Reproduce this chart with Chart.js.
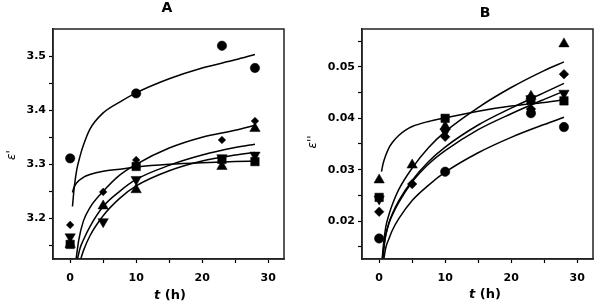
<!DOCTYPE html>
<html><head><meta charset="utf-8">
<script src="https://cdn.jsdelivr.net/npm/chart.js@4.4.1/dist/chart.umd.min.js"></script>
<style>
html,body{margin:0;padding:0;background:#fff;}
#wrap{position:relative;width:600px;height:308px;overflow:hidden;background:#fff;}
canvas{position:absolute;top:0;}
</style></head><body>
<div id="wrap">
<canvas id="cA" width="300" height="308" style="left:0px"></canvas>
<canvas id="cB" width="300" height="308" style="left:300px"></canvas>
</div>
<script>
// ---- sampling times (h) ----
const tHours = [0, 5, 10, 23, 28];

// ---- Panel A: epsilon' measured points ----
const aCircle   = [3.311, null, 3.431, 3.519, 3.478];
const aSquare   = [3.152, null, 3.296, 3.309, 3.305];
const aUpTri    = [3.152, 3.223, 3.253, 3.296, 3.366];
const aDownTri  = [3.166, 3.194, 3.272, 3.312, 3.317];
const aDiamond  = [3.188, 3.249, 3.308, 3.345, 3.380];

// ---- Panel A: fitted curves ----
const aFitCircleT  = [0.35, 0.6, 1, 1.5, 2, 3, 5, 7.5, 10, 15, 20, 25, 28];
const aFitCircleY  = [3.222, 3.255, 3.290, 3.315, 3.335, 3.365, 3.395, 3.415, 3.432, 3.458, 3.478, 3.493, 3.503];
const aFitSquareT  = [0.35, 0.6, 1, 2, 3, 5, 7.5, 10, 15, 20, 25, 28];
const aFitSquareY  = [3.248, 3.258, 3.266, 3.276, 3.281, 3.287, 3.291, 3.295, 3.300, 3.303, 3.305, 3.306];
const aFitDiamondT = [0.9, 1.3, 2, 3, 5, 7.5, 10, 15, 20, 25, 28];
const aFitDiamondY = [3.125, 3.160, 3.195, 3.220, 3.250, 3.280, 3.300, 3.330, 3.350, 3.363, 3.372];
const aFitUpT      = [1.1, 1.5, 2, 3, 5, 7.5, 10, 15, 20, 25, 28];
const aFitUpY      = [3.125, 3.145, 3.160, 3.185, 3.222, 3.250, 3.272, 3.298, 3.317, 3.331, 3.337];
const aFitDownT    = [1.6, 2, 3, 5, 7.5, 10, 15, 20, 25, 28];
const aFitDownY    = [3.125, 3.140, 3.168, 3.205, 3.237, 3.260, 3.288, 3.306, 3.317, 3.322];

// ---- Panel B: epsilon'' measured points ----
const bCircle   = [0.0166, null, 0.0296, 0.0410, 0.0383];
const bSquare   = [0.0246, null, 0.0400, 0.0436, 0.0434];
const bUpTri    = [0.0280, 0.0309, 0.0384, 0.0443, 0.0545];
const bDownTri  = [0.0243, null, 0.0374, 0.0438, 0.0449];
const bDiamond  = [0.0218, 0.0272, 0.0364, 0.0418, 0.0486];

// ---- Panel B: fitted curves ----
const bFitUpT      = [0.45, 0.7, 1, 1.5, 2, 3, 5, 7.5, 10, 15, 20, 25, 28];
const bFitUpY      = [0.0126, 0.0160, 0.0188, 0.0213, 0.0232, 0.0262, 0.0303, 0.0343, 0.0374, 0.0421, 0.0460, 0.0493, 0.0510];
const bFitDiamondT = [0.5, 0.75, 1, 1.5, 2, 3, 5, 7.5, 10, 15, 20, 25, 28];
const bFitDiamondY = [0.0126, 0.0155, 0.0173, 0.0197, 0.0214, 0.0240, 0.0279, 0.0316, 0.0344, 0.0387, 0.0420, 0.0450, 0.0468];
const bFitDownT    = [0.55, 0.8, 1, 1.5, 2, 3, 5, 7.5, 10, 15, 20, 25, 28];
const bFitDownY    = [0.0126, 0.0155, 0.0172, 0.0196, 0.0212, 0.0237, 0.0276, 0.0311, 0.0337, 0.0378, 0.0409, 0.0437, 0.0453];
const bFitCircleT  = [0.7, 1, 1.5, 2, 3, 5, 7.5, 10, 15, 20, 25, 28];
const bFitCircleY  = [0.0126, 0.0148, 0.0166, 0.0182, 0.0205, 0.0240, 0.0270, 0.0295, 0.0333, 0.0363, 0.0388, 0.0402];
const bFitSquareT  = [0.35, 0.6, 1, 1.5, 2, 3, 4, 5, 7.5, 10, 15, 20, 25, 28];
const bFitSquareY  = [0.0296, 0.0312, 0.0328, 0.0343, 0.0353, 0.0367, 0.0377, 0.0384, 0.0394, 0.0401, 0.0414, 0.0424, 0.0431, 0.0436];

// ---- ticks ----
const xTicks      = [0, 5, 10, 15, 20, 25, 30];
const xTickLabels = [0, 10, 20, 30];
const aYTicks      = [3.15, 3.2, 3.25, 3.3, 3.35, 3.4, 3.45, 3.5];
const aYTickLabels = ['3.2', '3.3', '3.4', '3.5'];
const bYTicks      = [0.015, 0.02, 0.025, 0.03, 0.035, 0.04, 0.045, 0.05, 0.055];
const bYTickLabels = ['0.02', '0.03', '0.04', '0.05'];

const FONT = 'DejaVu Sans';

function pts(xs, ys) {
  const out = [];
  xs.forEach((x, i) => { if (ys[i] !== null && ys[i] !== undefined) out.push({x: x, y: ys[i]}); });
  return out;
}
function markerSet(vals, style, r, rot) {
  return {
    data: pts(tHours, vals), showLine: false,
    pointStyle: style, pointRadius: r, pointRotation: rot || 0,
    pointBackgroundColor: '#000', pointBorderColor: '#000', pointBorderWidth: 0.5
  };
}
function curveSet(xs, ys) {
  return {
    data: pts(xs, ys), showLine: true, pointRadius: 0, borderColor: '#000',
    borderWidth: 1.5, cubicInterpolationMode: 'monotone', fill: false
  };
}

function makePanel(id, cfg) {
  const textPlugin = {
    id: 'texts',
    afterDraw(chart) {
      const ctx = chart.ctx;
      const ca = chart.chartArea;
      ctx.save();
      ctx.strokeStyle = '#222';
      ctx.lineWidth = 1.5;
      ctx.strokeRect(ca.left, ca.top, ca.right - ca.left, ca.bottom - ca.top);
      ctx.fillStyle = '#000';
      ctx.textAlign = 'center';
      ctx.textBaseline = 'middle';
      ctx.font = 'bold 14px "' + FONT + '"';
      ctx.fillText(cfg.title, cfg.titleX, cfg.titleY);
      ctx.font = 'bold italic 13px "' + FONT + '"';
      const w1 = ctx.measureText('t').width;
      ctx.font = 'bold 13px "' + FONT + '"';
      const w2 = ctx.measureText(' (h)').width;
      const x0 = cfg.xTitleX - (w1 + w2) / 2;
      ctx.textAlign = 'left';
      ctx.font = 'bold italic 13px "' + FONT + '"';
      ctx.fillText('t', x0, cfg.xTitleY);
      ctx.font = 'bold 13px "' + FONT + '"';
      ctx.fillText(' (h)', x0 + w1, cfg.xTitleY);
      ctx.translate(cfg.yTitleX, cfg.yTitleY);
      ctx.rotate(-Math.PI / 2);
      ctx.textAlign = 'center';
      ctx.font = 'italic 12px "' + FONT + '"';
      ctx.fillText(cfg.yTitle, 0, 0);
      ctx.restore();
    }
  };
  const tickFont = {family: FONT, weight: 'bold', size: 11};
  return new Chart(document.getElementById(id), {
    type: 'scatter',
    data: { datasets: cfg.datasets },
    options: {
      responsive: false, animation: false, devicePixelRatio: 1,
      layout: { padding: { top: 29, right: cfg.padRight, left: 0, bottom: 0 } },
      plugins: { legend: { display: false }, tooltip: { enabled: false }, title: { display: false } },
      scales: {
        x: {
          type: 'linear', min: -2.6, max: 32.4,
          afterBuildTicks: s => { s.ticks = xTicks.map(v => ({value: v})); },
          afterFit: s => { s.height = 49; },
          grid: { drawOnChartArea: false, tickLength: 4, color: '#000', tickWidth: 1.2 },
          border: { display: true, color: '#222', width: 1.5 },
          ticks: {
            autoSkip: false, maxRotation: 0, padding: 9, color: '#000', font: tickFont,
            callback: v => xTickLabels.includes(v) ? String(v) : ''
          }
        },
        y: {
          type: 'linear', min: cfg.yMin, max: cfg.yMax,
          afterBuildTicks: s => { s.ticks = cfg.yTicks.map(v => ({value: v})); },
          afterFit: s => { s.width = cfg.yWidth; },
          grid: { drawOnChartArea: false, tickLength: 4, color: '#000', tickWidth: 1.2 },
          border: { display: true, color: '#222', width: 1.5 },
          ticks: {
            autoSkip: false, padding: 3, color: '#000', font: tickFont,
            callback: v => {
              const s = v.toFixed(cfg.dec);
              return cfg.yLabels.includes(s) && Math.abs(parseFloat(s) - v) < 1e-9 ? s : '';
            }
          }
        }
      }
    },
    plugins: [textPlugin]
  });
}

makePanel('cA', {
  title: 'A', titleX: 167, titleY: 8,
  xTitleX: 170, xTitleY: 296,
  yTitle: "\u03b5'", yTitleX: 12, yTitleY: 155,
  yMin: 3.125, yMax: 3.55, yTicks: aYTicks, yLabels: aYTickLabels, dec: 1,
  yWidth: 53, padRight: 16,
  datasets: [
    curveSet(aFitCircleT, aFitCircleY),
    curveSet(aFitSquareT, aFitSquareY),
    curveSet(aFitDiamondT, aFitDiamondY),
    curveSet(aFitUpT, aFitUpY),
    curveSet(aFitDownT, aFitDownY),
    markerSet(aCircle, 'circle', 4.7),
    markerSet(aSquare, 'rect', 6),
    markerSet(aDownTri, 'triangle', 6, 180),
    markerSet(aUpTri, 'triangle', 6),
    markerSet(aDiamond, 'rectRot', 3.8)
  ]
});

makePanel('cB', {
  title: 'B', titleX: 185, titleY: 13,
  xTitleX: 185, xTitleY: 295,
  yTitle: "\u03b5''", yTitleX: 13, yTitleY: 142,
  yMin: 0.0126, yMax: 0.0574, yTicks: bYTicks, yLabels: bYTickLabels, dec: 2,
  yWidth: 62, padRight: 7,
  datasets: [
    curveSet(bFitUpT, bFitUpY),
    curveSet(bFitDiamondT, bFitDiamondY),
    curveSet(bFitDownT, bFitDownY),
    curveSet(bFitCircleT, bFitCircleY),
    curveSet(bFitSquareT, bFitSquareY),
    markerSet(bCircle, 'circle', 4.7),
    markerSet(bSquare, 'rect', 6),
    markerSet(bDownTri, 'triangle', 6, 180),
    markerSet(bUpTri, 'triangle', 6),
    markerSet(bDiamond, 'rectRot', 4.8)
  ]
});
</script>
</body></html>
